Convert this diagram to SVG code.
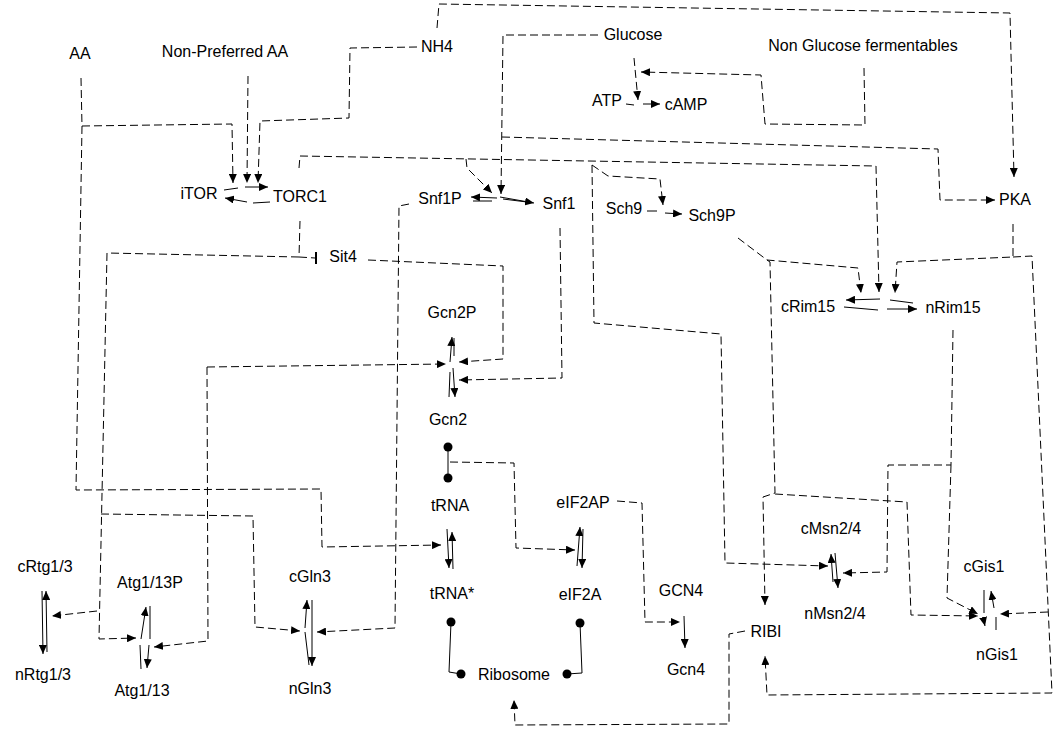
<svg xmlns="http://www.w3.org/2000/svg" width="1057" height="730" viewBox="0 0 1057 730">
<style>
text{font-family:"Liberation Sans",Arial,sans-serif;font-size:16px;fill:#000;text-anchor:middle}
.d{fill:none;stroke:#000;stroke-width:1;stroke-dasharray:8,4}
.s{fill:none;stroke:#000;stroke-width:1}
.a{marker-end:url(#ah)}
.b{fill:#000}
</style>
<defs>
<marker id="ah" markerUnits="userSpaceOnUse" markerWidth="9" markerHeight="8" refX="9" refY="4" orient="auto" viewBox="0 0 9 8"><path d="M0,0L9,4L0,8z" fill="#000"/></marker>
</defs>
<rect width="1057" height="730" fill="#fff"/>
<g id="connectors">
<path class="d a" d="M437,28 L439,4 L1010,13 L1014,177"/>
<path class="d a" d="M417,47 L350,48 L349,118 L260,121 L258,183"/>
<path class="d a" d="M248,76 L247,183"/>
<path class="d a" d="M81,78 L82,126 L232,124 L233,183"/>
<path class="d a" d="M82,126 L76,490 L321,489 L322,547 L441,545"/>
<path class="d a" d="M598,35 L503,35 L501,194"/>
<path class="d a" d="M502,137 L938,149 L940,200 L995,200"/>
<path class="d a" d="M634,58 L638,100"/>
<path class="d a" d="M864,68 L865,125 L765,124 L761,75 L641,72"/>
<path class="d a" d="M299,168 L300,156 L876,166 L879,292"/>
<path class="d a" d="M466,159 L467,168 L492,193"/>
<path class="d a" d="M592,165 L608,176 L660,179 L663,205"/>
<path class="d a" d="M592,165 L594,323 L721,334 L725,563 L828,566"/>
<path class="d a" d="M738,238 L767,260 L858,268 L861,293"/>
<path class="d a" d="M767,260 L770,262 L775,493 L763,497 L765,605"/>
<path class="d a" d="M775,494 L907,502 L911,615 L978,616"/>
<path class="d a" d="M1013,224 L1013,257 L897,262 L895,293"/>
<path class="d a" d="M1013,257 L1032,256 L1052,693 L767,695 L765,656"/>
<path class="d a" d="M1048,612 L1000,614"/>
<path class="d a" d="M953,330 L951,465 L888,465 L887,572 L843,573"/>
<path class="d a" d="M951,465 L947,598 L978,614"/>
<path class="d" d="M300,221 L299,257 L315,258"/>
<path d="M316,252 L316,264" stroke="#000" stroke-width="2"/>
<path class="d a" d="M299,257 L107,253 L99,639 L136,638"/>
<path class="d a" d="M97,611 L52,616"/>
<path class="d a" d="M101,514 L253,516 L255,627 L300,631"/>
<path class="d a" d="M368,260 L503,266 L503,359 L459,362"/>
<path class="d a" d="M560,228 L562,378 L459,380"/>
<path class="d a" d="M409,204 L399,206 L395,628 L317,632"/>
<path class="d a" d="M207,367 L446,364"/>
<path class="d a" d="M207,367 L208,641 L154,647"/>
<path class="s" d="M448,447 L448,478"/>
<circle class="b" cx="448" cy="447" r="4.5"/>
<circle class="b" cx="448" cy="478" r="4.5"/>
<path class="d a" d="M450,462 L514,463 L516,548 L575,550"/>
<path class="d a" d="M617,501 L642,503 L645,622 L680,622"/>
<path class="d a" d="M745,631 L729,634 L729,724 L515,725 L514,700"/>
<path class="s" d="M451,622 L449,672 L461,674"/>
<circle class="b" cx="451" cy="622" r="4.5"/>
<circle class="b" cx="461" cy="674" r="4.5"/>
<path class="s" d="M580,623 L582,673 L567,674"/>
<circle class="b" cx="580" cy="623" r="4.5"/>
<circle class="b" cx="567" cy="674" r="4.5"/>
<path class="s a" d="M224,190 L238,188 M245,187 L268,187"/>
<path class="s a" d="M270,202 L253,203 M247,202 L225,198"/>
<path class="s a" d="M527,202 L503,199 M497,198 L471,197"/>
<path class="s a" d="M473,201 L492,201 M500,197 L534,203"/>
<path class="s a" d="M626,104 L634,105 M643,104 L660,104"/>
<path class="s a" d="M647,211 L657,211 M665,213 L682,214"/>
<path class="s a" d="M913,303 L890,300 M880,299 L846,300"/>
<path class="s a" d="M844,307 L878,310 M887,309 L917,309"/>
<path class="s a" d="M449,397 L450,372 M450,362 L452,337"/>
<path class="s a" d="M454,338 L454,356 M453,368 L455,397"/>
<path class="s a" d="M453,569 L452,532"/>
<path class="s a" d="M447,529 L449,568"/>
<path class="s a" d="M577,566 L580,527"/>
<path class="s a" d="M583,529 L582,568"/>
<path class="s a" d="M684,616 L685,648"/>
<path class="s a" d="M833,582 L831,554"/>
<path class="s a" d="M835,553 L838,588"/>
<path class="s a" d="M984,590 L984,613 M983,617 L985,626"/>
<path class="s a" d="M996,630 L996,617 M994,608 L991,591"/>
<path class="s a" d="M47,652 L46,591"/>
<path class="s a" d="M42,591 L43,654"/>
<path class="s a" d="M141,669 L140,645 M141,639 L146,607"/>
<path class="s a" d="M150,606 L150,639 M149,645 L147,668"/>
<path class="s a" d="M309,665 L305,632 M305,628 L307,600"/>
<path class="s a" d="M312,600 L312,666"/>
</g>
<g id="AA"><text x="80" y="59">AA</text></g>
<g id="NonPreferredAA"><text x="225" y="57">Non-Preferred AA</text></g>
<g id="NH4"><text x="437" y="52">NH4</text></g>
<g id="Glucose"><text x="633" y="40">Glucose</text></g>
<g id="NonGlucose"><text x="863" y="51">Non Glucose fermentables</text></g>
<g id="ATP"><text x="607" y="106">ATP</text></g>
<g id="cAMP"><text x="686" y="110">cAMP</text></g>
<g id="iTOR"><text x="199" y="199">iTOR</text></g>
<g id="TORC1"><text x="300" y="202">TORC1</text></g>
<g id="Snf1P"><text x="440" y="204">Snf1P</text></g>
<g id="Snf1"><text x="559" y="209">Snf1</text></g>
<g id="Sch9"><text x="624" y="214">Sch9</text></g>
<g id="Sch9P"><text x="712" y="221">Sch9P</text></g>
<g id="PKA"><text x="1015" y="205">PKA</text></g>
<g id="Sit4"><text x="343" y="262">Sit4</text></g>
<g id="cRim15"><text x="808" y="312">cRim15</text></g>
<g id="nRim15"><text x="953" y="313">nRim15</text></g>
<g id="Gcn2P"><text x="452" y="318">Gcn2P</text></g>
<g id="Gcn2"><text x="448" y="425">Gcn2</text></g>
<g id="tRNA"><text x="450" y="511">tRNA</text></g>
<g id="eIF2AP"><text x="583" y="508">eIF2AP</text></g>
<g id="cMsn24"><text x="831" y="534">cMsn2/4</text></g>
<g id="cRtg13"><text x="45" y="572">cRtg1/3</text></g>
<g id="cGis1"><text x="984" y="572">cGis1</text></g>
<g id="Atg113P"><text x="150" y="588">Atg1/13P</text></g>
<g id="cGln3"><text x="310" y="582">cGln3</text></g>
<g id="tRNAstar"><text x="452" y="599">tRNA*</text></g>
<g id="eIF2A"><text x="580" y="600">eIF2A</text></g>
<g id="GCN4"><text x="681" y="596">GCN4</text></g>
<g id="nMsn24"><text x="835" y="619">nMsn2/4</text></g>
<g id="RIBI"><text x="766" y="637">RIBI</text></g>
<g id="nRtg13"><text x="43" y="680">nRtg1/3</text></g>
<g id="nGln3"><text x="310" y="694">nGln3</text></g>
<g id="Atg113"><text x="142" y="696">Atg1/13</text></g>
<g id="Ribosome"><text x="514" y="680">Ribosome</text></g>
<g id="Gcn4"><text x="686" y="675">Gcn4</text></g>
<g id="nGis1"><text x="997" y="660">nGis1</text></g>
</svg>
